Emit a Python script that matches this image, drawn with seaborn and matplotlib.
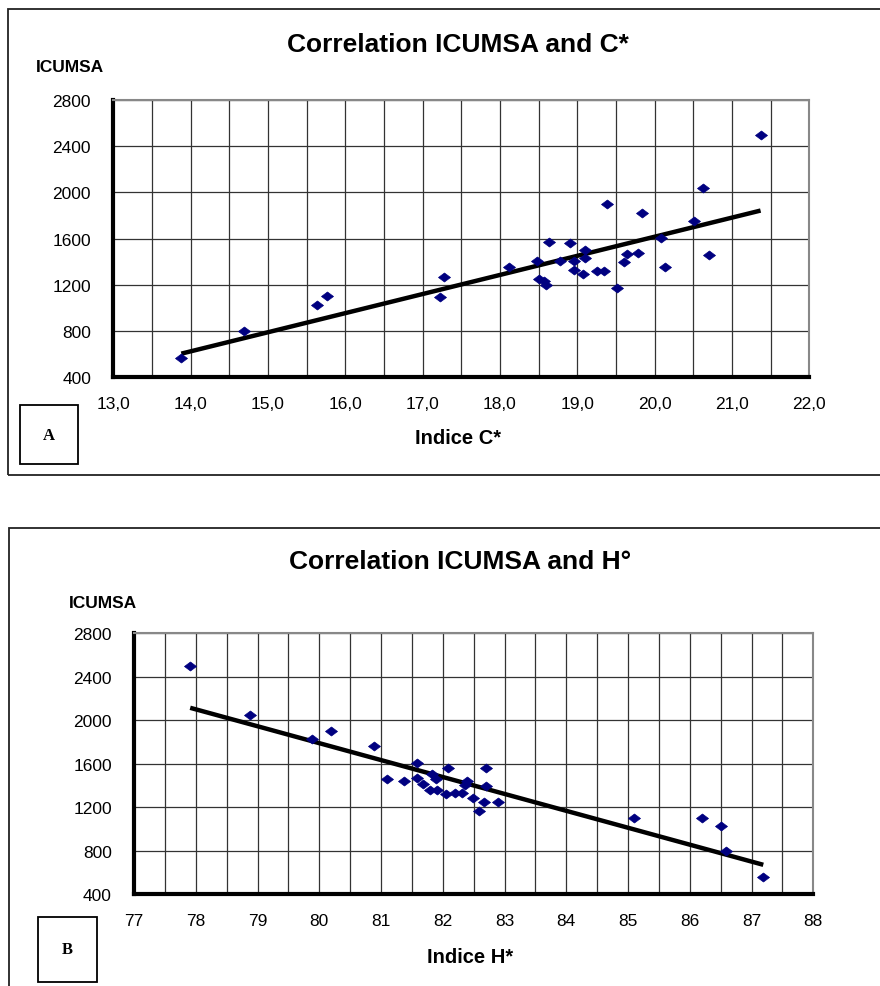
#!/usr/bin/env python3
"""
Correlation of ICUMSA colour with the C* and H* colour indices.
"""

import matplotlib
matplotlib.use("Agg")
import matplotlib.pyplot as plt
import matplotlib.patches as mpatches
from matplotlib.path import Path
from matplotlib.ticker import MultipleLocator, FixedLocator, FixedFormatter
import seaborn as sns
import pandas as pd

# Panel A: ICUMSA against C*
c_star = [13.88, 14.69, 15.64, 15.76, 17.22, 17.27, 18.12, 18.48, 18.50, 18.57,
          18.60, 18.63, 18.78, 18.91, 18.96, 18.96, 19.10, 19.10, 19.08, 19.26,
          19.35, 19.39, 19.51, 19.60, 19.64, 19.78, 19.84, 20.08, 20.13, 20.51,
          20.63, 20.70, 21.37]
icumsa_a = [562, 802, 1027, 1100, 1091, 1270, 1357, 1404, 1250, 1236,
            1198, 1569, 1404, 1563, 1409, 1328, 1502, 1433, 1294, 1317,
            1317, 1895, 1172, 1400, 1467, 1473, 1823, 1603, 1352, 1751,
            2040, 1453, 2500]

# Panel B: ICUMSA against H*
h_star = [77.91, 78.88, 79.89, 80.19, 80.89, 81.10, 81.38, 81.59, 81.59, 81.68,
          81.82, 81.89, 81.79, 81.90, 82.08, 82.06, 82.20, 82.31, 82.39, 82.36,
          82.49, 82.59, 82.67, 82.70, 82.70, 82.90, 85.10, 86.19, 86.50, 86.59,
          87.19]
icumsa_b = [2503, 2048, 1827, 1904, 1762, 1459, 1444, 1603, 1471, 1410,
            1505, 1456, 1357, 1357, 1563, 1318, 1333, 1333, 1444, 1403,
            1281, 1168, 1251, 1563, 1398, 1251, 1097, 1097, 1030, 800,
            560]

y_ticks = [400, 800, 1200, 1600, 2000, 2400, 2800]
x_ticks_a = [13.0, 14.0, 15.0, 16.0, 17.0, 18.0, 19.0, 20.0, 21.0, 22.0]
x_labels_a = ["13,0", "14,0", "15,0", "16,0", "17,0", "18,0", "19,0", "20,0", "21,0", "22,0"]
x_ticks_b = [77, 78, 79, 80, 81, 82, 83, 84, 85, 86, 87, 88]
x_labels_b = ["77", "78", "79", "80", "81", "82", "83", "84", "85", "86", "87", "88"]

W, H = 880, 987

sns.set_style("white")
plt.rcParams["font.family"] = ["Liberation Sans", "DejaVu Sans"]
plt.rcParams["text.color"] = "black"
plt.rcParams["xtick.color"] = "black"
plt.rcParams["ytick.color"] = "black"

# flat diamond like the spreadsheet marker
DIAMOND = Path([(-1, 0), (0, 0.75), (1, 0), (0, -0.75), (-1, 0)],
               [Path.MOVETO, Path.LINETO, Path.LINETO, Path.LINETO, Path.CLOSEPOLY])


def fx(px):
    return px / W


def fy(py):
    return 1 - py / H


def draw_panel(fig, box, x, y, xticks, xlabels, title, xlabel, letter, layout):
    """One framed scatter panel with its trend line."""
    left, top, right, bottom = box
    ax = fig.add_axes([fx(left), fy(bottom), fx(right) - fx(left), fy(top) - fy(bottom)])
    df = pd.DataFrame({"x": x, "y": y})

    sns.regplot(data=df, x="x", y="y", ax=ax, scatter=False, ci=None,
                line_kws={"color": "black", "lw": 3.2, "solid_capstyle": "butt"})
    sns.scatterplot(data=df, x="x", y="y", ax=ax, marker=DIAMOND, s=75,
                    color="#000080", edgecolor="#000080", linewidth=0.5, zorder=4)

    ax.set_xlim(xticks[0], xticks[-1])
    ax.set_ylim(y_ticks[0], y_ticks[-1])
    ax.xaxis.set_major_locator(FixedLocator(xticks))
    ax.xaxis.set_major_formatter(FixedFormatter(xlabels))
    ax.xaxis.set_minor_locator(MultipleLocator(0.5))
    ax.set_yticks(y_ticks)
    ax.grid(True, which="both", color="#333333", lw=0.9)
    ax.set_axisbelow(True)
    ax.tick_params(which="both", length=0, labelsize=12.5)
    ax.tick_params(axis="y", pad=16)
    ax.tick_params(axis="x", pad=14)
    ax.set_xlabel("")
    ax.set_ylabel("")

    for side in ["left", "bottom"]:
        ax.spines[side].set_color("black")
        ax.spines[side].set_linewidth(3)
    for side in ["top", "right"]:
        ax.spines[side].set_color("#888888")
        ax.spines[side].set_linewidth(1.5)

    # outer frame of the chart object
    fx0, fy0, fx1, fy1 = layout["frame"]
    fig.patches.append(mpatches.Rectangle((fx(fx0), fy(fy1)), fx(fx1) - fx(fx0), fy(fy0) - fy(fy1),
                                          transform=fig.transFigure, fill=False,
                                          edgecolor="#222222", lw=1.3, clip_on=False))
    # letter box
    lx0, ly0, lx1, ly1 = layout["letter_box"]
    fig.patches.append(mpatches.Rectangle((fx(lx0), fy(ly1)), fx(lx1) - fx(lx0), fy(ly0) - fy(ly1),
                                          transform=fig.transFigure, fill=False,
                                          edgecolor="black", lw=1.3))
    fig.text(fx((lx0 + lx1) / 2), fy((ly0 + ly1) / 2), letter, ha="center", va="center",
             fontsize=12, fontweight="bold", family=["Liberation Serif", "DejaVu Serif"])

    fig.text(fx(layout["title"][0]), fy(layout["title"][1]), title, ha="center", va="center",
             fontsize=19, fontweight="bold")
    fig.text(fx(layout["ylabel"][0]), fy(layout["ylabel"][1]), "ICUMSA", ha="center", va="center",
             fontsize=12.5, fontweight="bold")
    fig.text(fx(layout["xlabel"][0]), fy(layout["xlabel"][1]), xlabel, ha="center", va="center",
             fontsize=14.5, fontweight="bold")
    return ax


def main():
    fig = plt.figure(figsize=(W / 100, H / 100), dpi=100)

    draw_panel(fig, (113.3, 101, 809.3, 378), c_star, icumsa_a, x_ticks_a, x_labels_a,
               "Correlation ICUMSA and C*", "Indice C*", "A",
               {"frame": (8, 10, 884, 476), "letter_box": (20, 406, 78, 465),
                "title": (458, 45), "ylabel": (70, 68), "xlabel": (458, 438)})

    draw_panel(fig, (134, 634.3, 813.3, 895), h_star, icumsa_b, x_ticks_b, x_labels_b,
               "Correlation ICUMSA and H°", "Indice H*", "B",
               {"frame": (9, 529, 884, 995), "letter_box": (38, 918, 97, 983),
                "title": (460, 562), "ylabel": (103, 604), "xlabel": (470, 958)})

    fig.savefig("out.png", dpi=100)
    plt.close(fig)


if __name__ == "__main__":
    main()
